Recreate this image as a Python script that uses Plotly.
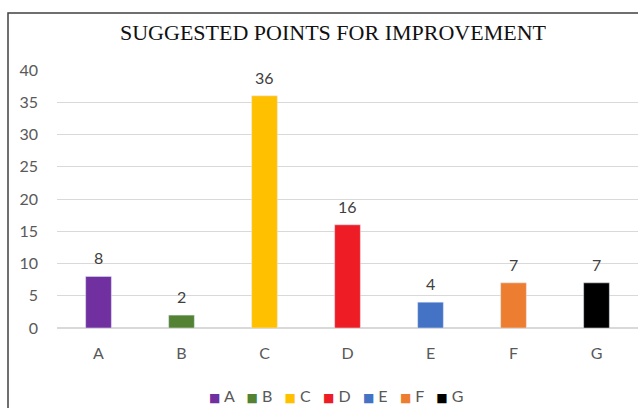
import plotly.graph_objects as go

categories = ["A", "B", "C", "D", "E", "F", "G"]
values = [8, 2, 36, 16, 4, 7, 7]
colors = ["#7030A0", "#548235", "#FFC000", "#EE1C25", "#4472C4", "#ED7D31", "#000000"]
y_ticks = [0, 5, 10, 15, 20, 25, 30, 35, 40]

fig = go.Figure()
for c, v, col in zip(categories, values, colors):
    fig.add_trace(go.Bar(x=[c], y=[v], name=c, marker_color=col, width=0.31, hoverinfo="skip"))
    fig.add_annotation(x=c, y=v, text=str(v), showarrow=False, yanchor="bottom", yshift=7,
                       font=dict(size=16, color="#404040", family="Lato"))

L, T, B = 57, 70, 80
W, H = 638, 408
pw = W - L
ph = H - T - B

legend_parts = []
for c, col in zip(categories, colors):
    legend_parts.append(
        f"<span style='color:{col};font-family:DejaVu Sans;font-size:12px'>■</span>&nbsp;{c}")
legend_text = "&nbsp;&nbsp;&nbsp;".join(legend_parts)
fig.add_annotation(xref="paper", yref="paper", x=(336 - L) / pw, y=-(395 - T - ph) / ph,
                   xanchor="center", yanchor="middle", showarrow=False, text=legend_text,
                   font=dict(family="Lato", size=16, color="#595959"))

fig.update_layout(
    width=W, height=H,
    margin=dict(l=L, r=0, t=T, b=B),
    paper_bgcolor="white", plot_bgcolor="white",
    barmode="relative",
    showlegend=False,
    title=dict(text="SUGGESTED POINTS FOR IMPROVEMENT", x=(333 - L) / pw, xref="paper",
               xanchor="center", y=1 - 32 / H, yanchor="middle",
               font=dict(family="Liberation Serif", size=22, color="#111111")),
    xaxis=dict(categoryorder="array", categoryarray=categories, showgrid=False,
               showline=False, ticks="", ticklabelstandoff=14,
               tickfont=dict(family="Lato", size=16, color="#595959"),
               range=[-0.5, 6.5]),
    yaxis=dict(range=[0, 40], tickvals=y_ticks, showgrid=True, gridcolor="#D9D9D9",
               gridwidth=1, zeroline=True, zerolinecolor="#D9D9D9", showline=False,
               ticks="", ticklabelstandoff=18,
               tickfont=dict(family="Lato", size=16, color="#595959")),
)

fig.add_shape(type="rect", xref="paper", yref="paper",
              x0=(8 - L) / pw, x1=1.2, y0=-1.0, y1=1 + (T - 13) / ph,
              line=dict(color="#404040", width=1.5), fillcolor="rgba(0,0,0,0)", layer="below")

fig.write_html("out.html", config={"displayModeBar": False},
               post_script="document.body.style.margin='0';")
